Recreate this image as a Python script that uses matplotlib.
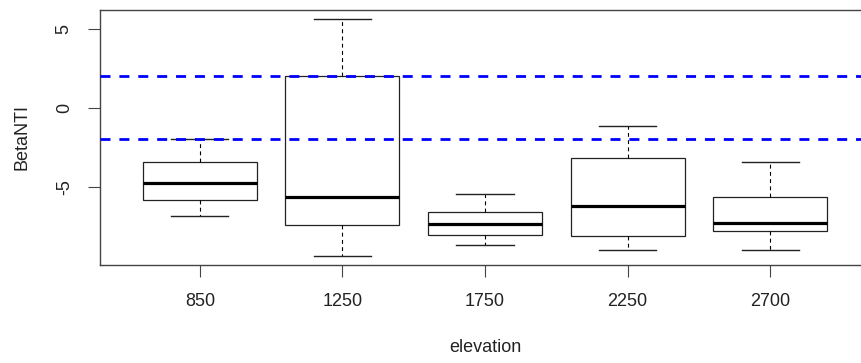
import matplotlib
matplotlib.use("Agg")
import matplotlib.pyplot as plt

plt.rcParams['font.family'] = ['Liberation Sans', 'DejaVu Sans']

categories = ["850", "1250", "1750", "2250", "2700"]
whislo = [-6.79, -9.31, -8.62, -8.99, -8.93]
q1 = [-5.79, -7.40, -8.03, -8.09, -7.78]
med = [-4.72, -5.64, -7.32, -6.18, -7.23]
q3 = [-3.38, 2.01, -6.56, -3.14, -5.64]
whishi = [-1.97, 5.58, -5.41, -1.13, -3.44]
ref_lines = [2.0, -1.97]

stats = []
for i, c in enumerate(categories):
    stats.append(dict(label=c, whislo=whislo[i], q1=q1[i], med=med[i],
                      q3=q3[i], whishi=whishi[i], fliers=[]))

fig = plt.figure(figsize=(8.61, 3.63), dpi=100)
ax = fig.add_axes([100/861, 1 - 265/363, 770/861, 255/363])

positions = list(range(1, len(categories) + 1))
ax.bxp(stats, positions=positions, widths=0.8, showfliers=False,
       patch_artist=True,
       boxprops=dict(facecolor='white', edgecolor='#222222', linewidth=0.9),
       medianprops=dict(color='black', linewidth=2.3, solid_capstyle='butt'),
       whiskerprops=dict(color='black', linewidth=0.8, linestyle=(0, (3.5, 3))),
       capprops=dict(color='#222222', linewidth=1.0),
       capwidths=0.4)

for v in ref_lines:
    ax.axhline(v, color='#0000ff', linewidth=2, linestyle=(0, (3.6, 3.2)), zorder=5)

ymin = min(whislo); ymax = max(whishi)
r = ymax - ymin
ax.set_ylim(ymin - 0.04 * r, ymax + 0.04 * r)
ax.set_xlim(0.3, 5.7)

ax.set_xticks(positions)
ax.set_xticklabels(categories)
ax.set_yticks([-5, 0, 5])
ax.set_yticklabels(["-5", "0", "5"], rotation=90, va='center')

ax.tick_params(axis='both', length=8.6, width=0.8, color='#444444',
               labelsize=13, labelcolor='#222222')
ax.tick_params(axis='x', pad=11.5)
ax.tick_params(axis='y', pad=11)

for s in ax.spines.values():
    s.set_color('#444444')
    s.set_linewidth(1.0)

ax.set_xlabel("elevation", fontsize=13, color='#222222', labelpad=21)
ax.set_ylabel("BetaNTI", fontsize=13, color='#222222', labelpad=18)

fig.savefig("out.png", dpi=100)
